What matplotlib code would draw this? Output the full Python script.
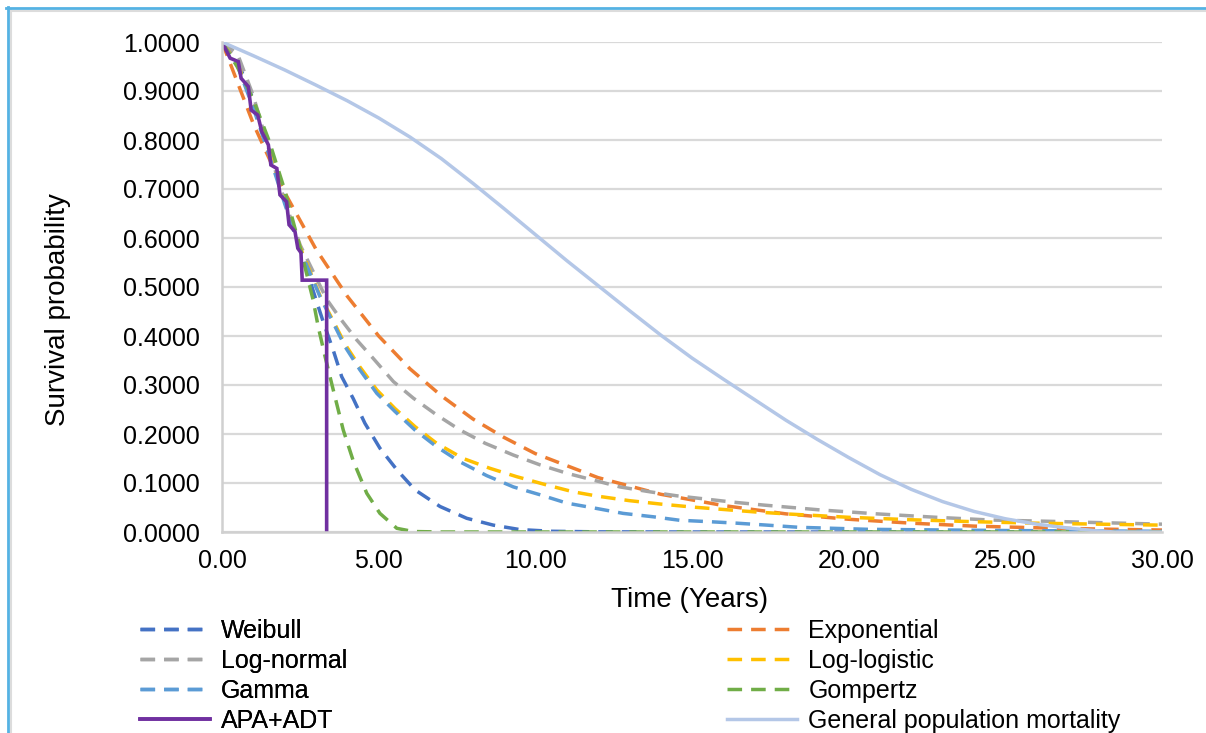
import matplotlib
matplotlib.use('Agg')

import matplotlib.pyplot as plt
from matplotlib.lines import Line2D

plt.rcParams['font.family'] = ['Liberation Sans', 'DejaVu Sans']

# fitted parametric survival curves (years, survival probability)
weibull_t = [0, 0.5, 1, 1.5, 2, 2.5, 2.97, 3.23, 3.55, 3.82, 4.19, 4.56, 5.04, 5.58,
             6.16, 6.96, 7.81, 8.66, 9.5, 10.5, 12, 15, 20, 25, 30]
weibull_s = [1.0, 0.96, 0.882, 0.785, 0.679, 0.575, 0.48, 0.429, 0.371, 0.317, 0.272,
             0.222, 0.171, 0.127, 0.086, 0.052, 0.028, 0.014, 0.005, 0.0015, 0.0003,
             0, 0, 0, 0]

expo_t = [0, 1, 2, 3, 4, 5, 6, 7, 8, 9, 10, 12, 14, 16, 18, 20, 22, 24, 26, 28, 30]
expo_s = [1.0, 0.833, 0.693, 0.577, 0.481, 0.40, 0.333, 0.278, 0.231, 0.193, 0.160,
          0.111, 0.077, 0.054, 0.037, 0.026, 0.018, 0.012, 0.0086, 0.006, 0.004]

lognorm_t = [0, 0.5, 1, 1.5, 2, 2.5, 2.86, 3.34, 3.77, 4.3, 4.83, 5.47, 6.11, 6.85,
             7.6, 8.4, 9.3, 10.15, 11.0, 11.85, 12.7, 13.66, 14.5, 15.47, 16.3,
             17.28, 19.1, 20.9, 22.8, 24.5, 26.3, 28.1, 30]
lognorm_s = [1.0, 0.975, 0.89, 0.78, 0.675, 0.585, 0.538, 0.475, 0.436, 0.392, 0.354,
             0.307, 0.273, 0.239, 0.208, 0.181, 0.157, 0.137, 0.120, 0.106, 0.092,
             0.082, 0.074, 0.067, 0.061, 0.055, 0.045, 0.037, 0.030, 0.0245, 0.022,
             0.019, 0.016]

loglog_t = [0, 0.5, 1, 1.5, 2, 2.5, 3.13, 3.5, 3.93, 4.4, 4.94, 5.52, 6.16, 6.85,
            7.7, 8.55, 9.4, 10.36, 11.21, 12, 13, 14, 15, 16, 17, 18, 20, 22, 24,
            26, 28, 30]
loglog_s = [1.0, 0.955, 0.87, 0.775, 0.675, 0.58, 0.482, 0.437, 0.383, 0.337, 0.29,
            0.252, 0.215, 0.181, 0.150, 0.130, 0.113, 0.096, 0.082, 0.073, 0.064,
            0.057, 0.051, 0.046, 0.041, 0.037, 0.030, 0.025, 0.021, 0.018, 0.016,
            0.014]

gamma_t = [0, 0.5, 1, 1.5, 2, 2.5, 3.13, 3.5, 3.93, 4.4, 4.94, 5.52, 6.16, 6.85, 7.6,
           8.45, 9.3, 10.15, 11.0, 11.96, 12.8, 13.77, 14.6, 15.57, 16.43, 17.4,
           18.4, 20.6, 25, 30]
gamma_s = [1.0, 0.95, 0.865, 0.77, 0.67, 0.575, 0.48, 0.433, 0.378, 0.331, 0.283,
           0.246, 0.208, 0.174, 0.143, 0.115, 0.092, 0.076, 0.059, 0.048, 0.038,
           0.031, 0.024, 0.021, 0.018, 0.014, 0.0096, 0.0055, 0.003, 0.0015]

gompertz_t = [0, 0.5, 1, 1.5, 2, 2.5, 2.91, 3.07, 3.29, 3.5, 3.87, 4.19, 4.62, 5.04,
              5.58, 6.1, 7, 30]
gompertz_s = [1.0, 0.948, 0.882, 0.799, 0.698, 0.579, 0.473, 0.419, 0.358, 0.303,
              0.208, 0.145, 0.079, 0.038, 0.0075, 0.001, 0, 0]

# observed Kaplan-Meier for APA+ADT
km_t = [0, 0.26, 0.52, 0.61, 0.84, 0.93, 1.14, 1.27, 1.48, 1.56, 1.75, 1.85, 2.06,
        2.14, 2.33, 2.42, 2.52, 2.56, 3.34, 3.34]
km_s = [1.0, 0.967, 0.96, 0.926, 0.909, 0.861, 0.851, 0.817, 0.790, 0.749, 0.742,
        0.688, 0.674, 0.627, 0.613, 0.579, 0.570, 0.514, 0.514, 0.0]

# background mortality
genpop_t = [0, 1, 2, 3, 4, 5, 6, 7, 8, 9, 10, 11, 12, 13, 14, 15, 16, 17, 18, 19,
            20, 21, 22, 23, 24, 25, 26, 27, 28, 28.5, 30]
genpop_s = [1.0, 0.972, 0.943, 0.912, 0.88, 0.845, 0.806, 0.762, 0.712, 0.66, 0.607,
            0.554, 0.503, 0.452, 0.402, 0.355, 0.312, 0.27, 0.228, 0.189, 0.152,
            0.117, 0.087, 0.062, 0.042, 0.027, 0.016, 0.008, 0.002, 0, 0]

y_ticks = [0.0, 0.1, 0.2, 0.3, 0.4, 0.5, 0.6, 0.7, 0.8, 0.9, 1.0]
x_ticks = [0, 5, 10, 15, 20, 25, 30]

W, H = 1206, 733
fig = plt.figure(figsize=(W / 100, H / 100), dpi=100)
ax = fig.add_axes([222 / W, 1 - 532 / H, 940 / W, 490 / H])

dash = (4.2, 2.6)
lw = 2.5
series = [
    ('Weibull', weibull_t, weibull_s, '#4472C4'),
    ('Exponential', expo_t, expo_s, '#ED7D31'),
    ('Log-normal', lognorm_t, lognorm_s, '#A5A5A5'),
    ('Log-logistic', loglog_t, loglog_s, '#FFC000'),
    ('Gamma', gamma_t, gamma_s, '#5B9BD5'),
    ('Gompertz', gompertz_t, gompertz_s, '#70AD47'),
]
handles = {}
for name, t, s, c in series:
    ln, = ax.plot(t, s, color=c, lw=lw, dashes=dash, label=name,
                  dash_capstyle='butt')
    handles[name] = ln

ln, = ax.plot(km_t, km_s, color='#7030A0', lw=2.6, label='APA+ADT',
              solid_joinstyle='miter')
handles['APA+ADT'] = ln
ln, = ax.plot(genpop_t, genpop_s, color='#B4C7E7', lw=2.5,
              label='General population mortality')
handles['General population mortality'] = ln

ax.set_xlim(0, 30)
ax.set_ylim(0, 1)
ax.set_xticks(x_ticks)
ax.set_xticklabels([f'{v:.2f}' for v in x_ticks])
ax.set_yticks(y_ticks)
ax.set_yticklabels([f'{v:.4f}' for v in y_ticks])
ax.tick_params(length=0, labelsize=18, colors='#000000')
ax.tick_params(axis='y', pad=16)
ax.tick_params(axis='x', pad=12)
ax.grid(axis='y', color='#D9D9D9', lw=1.6)
ax.set_axisbelow(True)
for side in ['top', 'right']:
    ax.spines[side].set_visible(False)
for side in ['left', 'bottom']:
    ax.spines[side].set_color('#D0D0D0')
    ax.spines[side].set_linewidth(1.8)

fig.text(690 / W, 1 - 600 / H, 'Time (Years)', fontsize=20,
         ha='center', va='center')
fig.text(58 / W, 1 - 310 / H, 'Survival probability', fontsize=20,
         ha='center', va='center', rotation=90)

# two legend columns laid out by hand
col1 = ['Weibull', 'Log-normal', 'Gamma', 'APA+ADT']
col2 = ['Exponential', 'Log-logistic', 'Gompertz', 'General population mortality']
legend_kw = dict(frameon=False, fontsize=18, handlelength=2.8, handletextpad=0.45,
                 labelspacing=0.24, borderpad=0, borderaxespad=0, loc='upper left')
leg1 = fig.legend([handles[n] for n in col1], col1,
                  bbox_to_anchor=(140 / W, 1 - 619 / H), **legend_kw)
fig.add_artist(leg1)
fig.legend([handles[n] for n in col2], col2,
           bbox_to_anchor=(727 / W, 1 - 619 / H), **legend_kw)

# window frame
fig.add_artist(Line2D([10 / W, 1], [1 - 10.5 / H, 1 - 10.5 / H],
                      transform=fig.transFigure, color='#DCDCDC', lw=1.5))
fig.add_artist(Line2D([10.5 / W, 10.5 / W], [0, 1 - 10 / H],
                      transform=fig.transFigure, color='#DCDCDC', lw=1.5))
fig.add_artist(Line2D([6 / W, 1], [1 - 7.5 / H, 1 - 7.5 / H],
                      transform=fig.transFigure, color='#55B2E3', lw=2))
fig.add_artist(Line2D([7.5 / W, 7.5 / W], [0, 1 - 6.5 / H],
                      transform=fig.transFigure, color='#55B2E3', lw=2))

fig.savefig('out.png', dpi=100)
